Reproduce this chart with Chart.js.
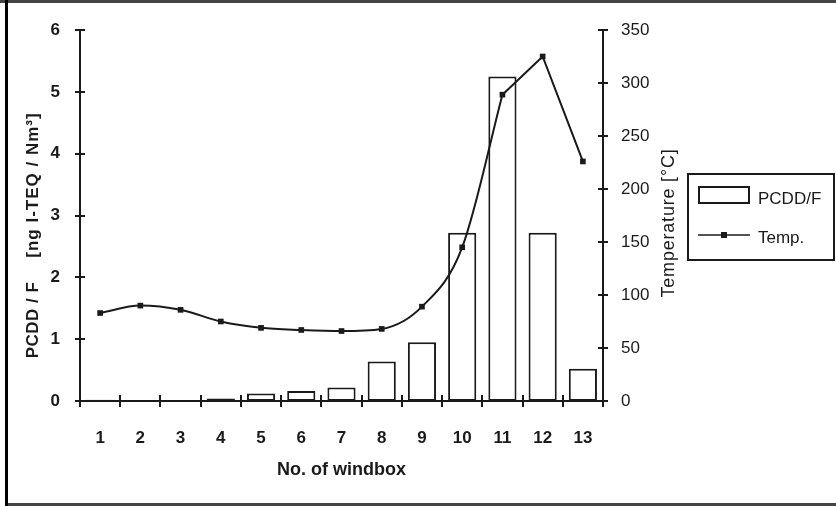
<!DOCTYPE html>
<html>
<head>
<meta charset="utf-8">
<script src="https://cdn.jsdelivr.net/npm/chart.js@4.4.1/dist/chart.umd.min.js"></script>
<style>
  html, body { margin: 0; padding: 0; background: #fff; }
  #wrap { position: relative; width: 836px; height: 506px; }
</style>
</head>
<body>
<div id="wrap"><canvas id="chart" width="836" height="506"></canvas></div>
<script>
// PCDD/F per windbox with gas temperature

const windboxes = ["1", "2", "3", "4", "5", "6", "7", "8", "9", "10", "11", "12", "13"];
const pcddValues = [0.02, 0.01, 0.01, 0.04, 0.12, 0.16, 0.22, 0.64, 0.95, 2.72, 5.25, 2.72, 0.52];
const tempValues = [83, 90, 86, 75, 69, 67, 66, 68, 89, 145, 289, 325, 226];

const leftTicks = [0, 1, 2, 3, 4, 5, 6];
const rightTicks = [0, 50, 100, 150, 200, 250, 300, 350];

// the temperature curve is smoothed up to windbox 11, straight after it
const SMOOTH_END = 10;
const tempSmooth = tempValues.map((v, i) => (i <= SMOOTH_END ? v : null));
const tempStraight = tempValues.map((v, i) => (i >= SMOOTH_END ? v : null));

const INK = "#1a1a1a";
const FONT = "'Liberation Sans', Arial, sans-serif";

function vText(c, text, x, y, font, spacing) {
  c.save();
  c.translate(x, y);
  c.rotate(-Math.PI / 2);
  c.font = font;
  c.letterSpacing = spacing || "0px";
  c.textAlign = "center";
  c.textBaseline = "middle";
  c.fillText(text, 0, 0);
  c.restore();
}

// frame, crossing tick marks, axis titles and the boxed legend
const decorPlugin = {
  id: "decor",
  beforeDraw(chart) {
    const c = chart.ctx;
    c.save();
    c.fillStyle = "#fff";
    c.fillRect(0, 0, chart.width, chart.height);
    c.restore();
  },
  afterDraw(chart) {
    const c = chart.ctx;
    const x = chart.scales.x;
    const y = chart.scales.y;
    const y1 = chart.scales.y1;
    c.save();

    // outer frame
    c.fillStyle = "#444";
    c.fillRect(0, 0, chart.width, 3);
    c.fillRect(5, 503, chart.width, 3);
    c.fillStyle = "#000";
    c.fillRect(5, 0, 3, 506);

    c.strokeStyle = INK;
    c.lineWidth = 2;
    c.beginPath();
    leftTicks.forEach(v => {
      const py = Math.round(y.getPixelForValue(v));
      c.moveTo(x.left - 5, py);
      c.lineTo(x.left + 5, py);
    });
    rightTicks.forEach(v => {
      const py = Math.round(y1.getPixelForValue(v));
      c.moveTo(x.right - 5, py);
      c.lineTo(x.right + 5, py);
    });
    for (let i = 0; i <= windboxes.length; i++) {
      const px = Math.round(x.getPixelForValue(i - 0.5));
      c.moveTo(px, y.bottom - 6);
      c.lineTo(px, y.bottom + 6);
    }
    c.stroke();

    // axis titles
    c.fillStyle = INK;
    vText(c, "PCDD / F", 33, 320, "bold 17px " + FONT, "0.5px");
    vText(c, "[ng I-TEQ / Nm³]", 33, 185, "bold 17px " + FONT, "1px");
    vText(c, "Temperature [°C]", 669, 223, "18px " + FONT, "0.8px");

    // legend
    c.lineWidth = 2;
    c.strokeRect(688, 174, 146, 86);
    c.strokeRect(699, 187, 50, 16);
    c.beginPath();
    c.lineWidth = 1.5;
    c.moveTo(698, 235);
    c.lineTo(750, 235);
    c.stroke();
    c.fillRect(721, 232, 6, 6);
    c.font = "17px " + FONT;
    c.textBaseline = "middle";
    c.textAlign = "left";
    c.fillText("PCDD/F", 758, 199);
    c.fillText("Temp.", 758, 238);
    c.restore();
  }
};

const lineStyle = {
  type: "line",
  yAxisID: "y1",
  borderColor: INK,
  backgroundColor: INK,
  borderWidth: 2,
  pointStyle: "rect",
  pointBackgroundColor: INK,
  pointBorderWidth: 0,
  spanGaps: false,
  order: 0
};

new Chart(document.getElementById("chart"), {
  data: {
    labels: windboxes,
    datasets: [
      Object.assign({}, lineStyle, {
        label: "Temp.",
        data: tempSmooth,
        cubicInterpolationMode: "monotone",
        pointRadius: 4
      }),
      Object.assign({}, lineStyle, {
        label: "Temp. (tail)",
        data: tempStraight,
        tension: 0,
        pointRadius: ctx => (ctx.dataIndex > SMOOTH_END ? 4 : 0)
      }),
      {
        type: "bar",
        label: "PCDD/F",
        data: pcddValues,
        yAxisID: "y",
        backgroundColor: "#fff",
        borderColor: INK,
        borderWidth: 2,
        borderSkipped: false,
        barPercentage: 0.7,
        categoryPercentage: 1,
        order: 1
      }
    ]
  },
  options: {
    responsive: false,
    animation: false,
    layout: { padding: { left: 0, top: 30, right: 153, bottom: 25 } },
    plugins: {
      legend: { display: false },
      tooltip: { enabled: false }
    },
    scales: {
      x: {
        offset: true,
        grid: { display: false },
        border: { display: true, color: INK, width: 2 },
        ticks: {
          color: INK,
          padding: 19,
          maxRotation: 0,
          font: { family: FONT, size: 17, weight: "bold" }
        },
        title: {
          display: true,
          text: "No. of windbox",
          color: INK,
          padding: { top: 0, bottom: 0 },
          font: { family: FONT, size: 18, weight: "bold" }
        },
        afterFit(s) { s.height = 80; }
      },
      y: {
        position: "left",
        min: 0,
        max: 6,
        grid: { display: false },
        border: { display: true, color: INK, width: 2 },
        ticks: {
          stepSize: 1,
          color: INK,
          padding: 12,
          font: { family: FONT, size: 17, weight: "bold" }
        },
        afterFit(s) { s.width = 80; }
      },
      y1: {
        position: "right",
        min: 0,
        max: 350,
        grid: { display: false },
        border: { display: true, color: INK, width: 2 },
        ticks: {
          stepSize: 50,
          color: INK,
          padding: 10,
          font: { family: FONT, size: 17 }
        },
        afterFit(s) { s.width = 80; }
      }
    }
  },
  plugins: [decorPlugin]
});
</script>
</body>
</html>
